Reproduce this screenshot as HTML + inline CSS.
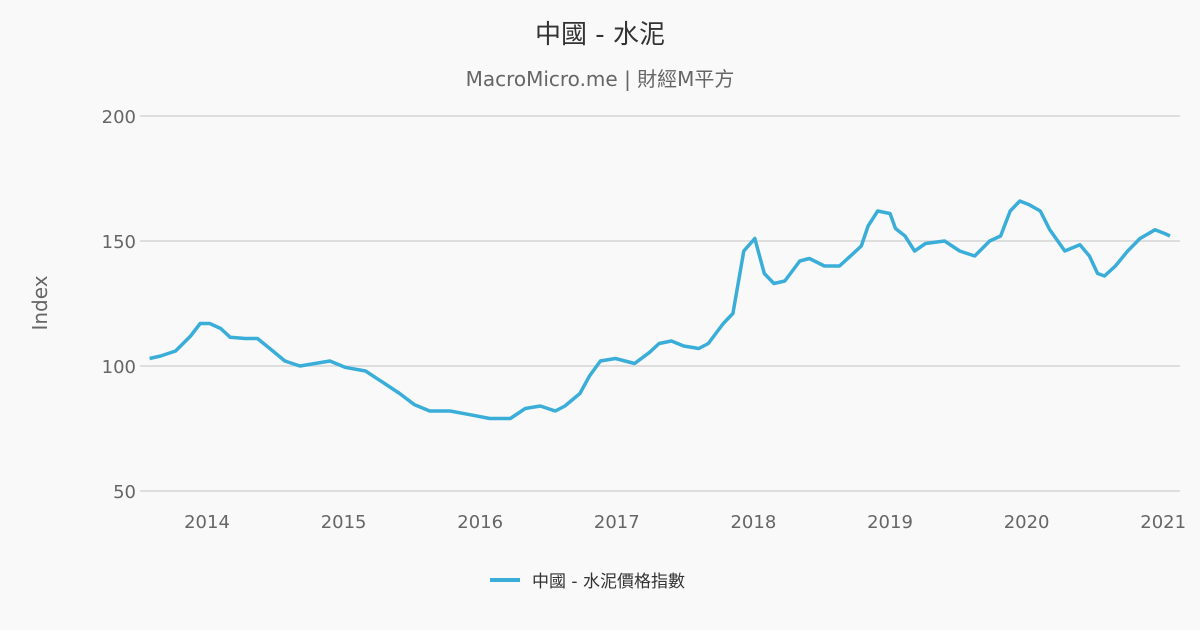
<!DOCTYPE html>
<html><head><meta charset="utf-8">
<style>
body{margin:0;background:#f9f9f9;}
svg{display:block;font-family:"DejaVu Sans","Noto Sans CJK TC",sans-serif;}
</style></head>
<body>
<svg id="chart" width="1200" height="630">
<rect width="1200" height="630" fill="#f9f9f9"/>
<text x="600" y="43" text-anchor="middle" font-size="26" fill="#333">中國 - 水泥</text>
<text x="600" y="86" text-anchor="middle" font-size="20" fill="#666">MacroMicro.me | 財經M平方</text>
<text transform="translate(47,303) rotate(-90)" text-anchor="middle" font-size="20" fill="#666">Index</text>
<g id="grid"></g><g id="xaxis"></g><g id="series"></g>
<g>
<line x1="490" y1="580" x2="520" y2="580" stroke="#3aaed8" stroke-width="4"/>
<text x="532" y="587" font-size="17" fill="#333">中國 - 水泥價格指數</text>
</g>
</svg>
<script>
const yTicks=[50,100,150,200];
const xTicks=[2014,2015,2016,2017,2018,2019,2020,2021];
const dates=[2013.58,2013.66,2013.77,2013.88,2013.95,2014.02,2014.10,2014.17,2014.28,2014.37,2014.46,2014.57,2014.68,2014.79,2014.90,2015.01,2015.16,2015.30,2015.41,2015.52,2015.63,2015.78,2015.93,2016.07,2016.22,2016.33,2016.44,2016.55,2016.62,2016.73,2016.80,2016.88,2016.99,2017.13,2017.24,2017.31,2017.40,2017.49,2017.60,2017.67,2017.78,2017.85,2017.93,2018.01,2018.08,2018.15,2018.23,2018.34,2018.41,2018.52,2018.63,2018.72,2018.79,2018.84,2018.91,2019.00,2019.04,2019.11,2019.18,2019.26,2019.40,2019.51,2019.62,2019.73,2019.81,2019.88,2019.95,2020.02,2020.10,2020.17,2020.28,2020.39,2020.46,2020.52,2020.57,2020.65,2020.74,2020.83,2020.94,2021.01,2021.05];
const values=[103,104,106,112,117,117,115,111.5,111,111,107,102,100,101,102,99.5,98,93,89,84.5,82,82,80.5,79,79,83,84,82,84,89,96,102,103,101,105.5,109,110,108,107,109,117,121,146,151,137,133,134,142,143,140,140,144.5,148,156,162,161,155,152,146,149,150,146,144,150,152,162,166,164.5,162,154.5,146,148.5,144,137,136,140,146,151,154.5,153,152];
const X=v=>207+(v-2014)*136.6;
const Y=v=>491-(v-50)*2.5;
const NS="http://www.w3.org/2000/svg";
const grid=document.getElementById('grid');
yTicks.forEach(t=>{
 const l=document.createElementNS(NS,'line');
 l.setAttribute('x1',140);l.setAttribute('x2',1180);l.setAttribute('y1',Y(t));l.setAttribute('y2',Y(t));
 l.setAttribute('stroke','#d6d6d6');l.setAttribute('stroke-width','1.5');
 
 
 grid.appendChild(l);
 const tx=document.createElementNS(NS,'text');
 tx.setAttribute('x',136);tx.setAttribute('y',Y(t)+7);tx.setAttribute('text-anchor','end');
 tx.setAttribute('font-size','18');tx.setAttribute('fill','#666');tx.textContent=t;
 
 
 grid.appendChild(tx);
});
const xa=document.getElementById('xaxis');
xTicks.forEach(t=>{
 const tx=document.createElementNS(NS,'text');
 tx.setAttribute('x',X(t));tx.setAttribute('y',528);tx.setAttribute('text-anchor','middle');
 tx.setAttribute('font-size','18');tx.setAttribute('fill','#666');tx.textContent=t;
 
 
 xa.appendChild(tx);
});
const p=document.createElementNS(NS,'path');
p.setAttribute('d',dates.map((d,i)=>(i?'L':'M')+X(d).toFixed(1)+','+Y(values[i]).toFixed(1)).join(''));
p.setAttribute('fill','none');p.setAttribute('stroke','#3aaed8');p.setAttribute('stroke-width','3.5');
p.setAttribute('stroke-linejoin','round');


document.getElementById('series').appendChild(p);
</script>
</body></html>
